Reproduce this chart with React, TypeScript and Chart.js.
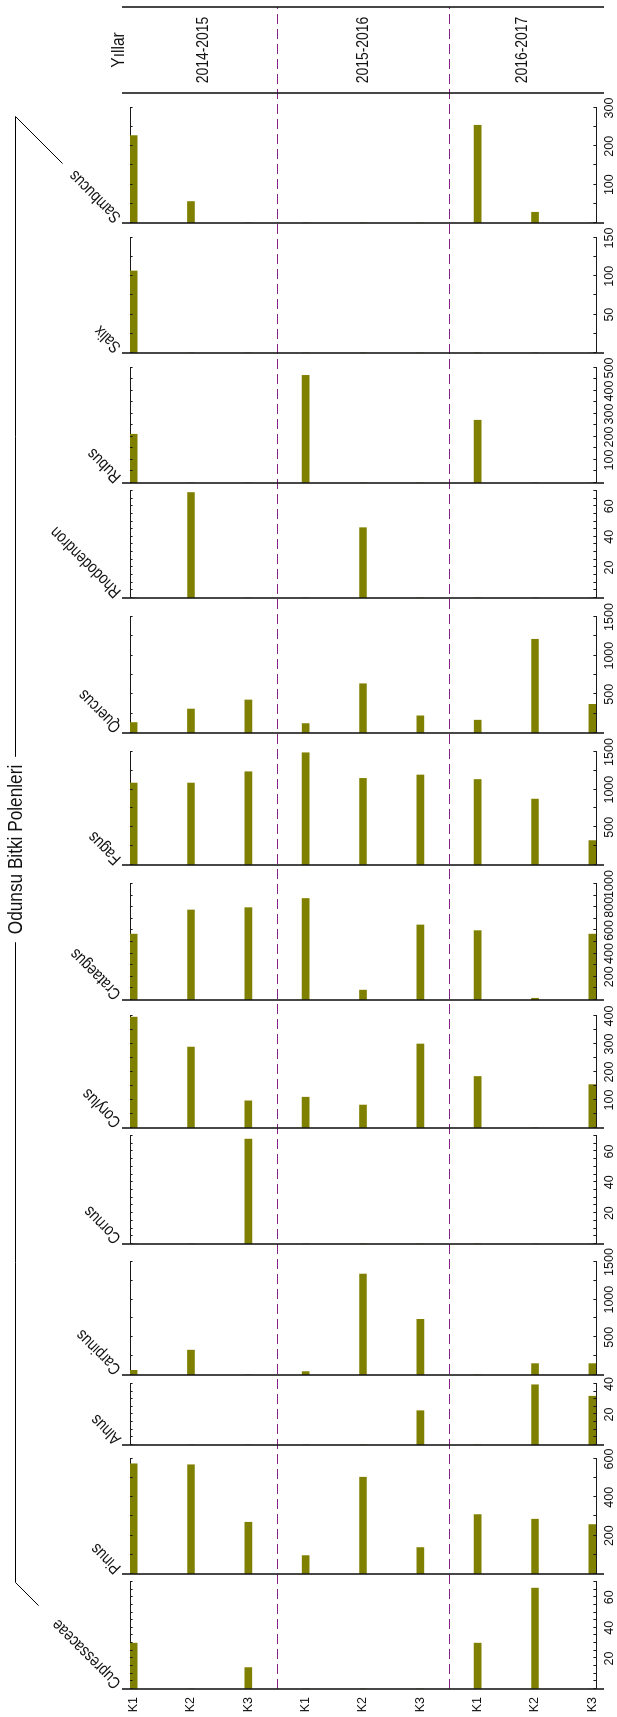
import React, { useEffect, useRef } from 'react';
import { Chart, registerables } from 'chart.js';

Chart.register(...registerables);

// ---------------- data ----------------
const CATEGORIES = ['K1', 'K2', 'K3', 'K1', 'K2', 'K3', 'K1', 'K2', 'K3'];
const YEARS = ['2014-2015', '2015-2016', '2016-2017'];
const YEAR_HEADER = 'Yıllar';
const TITLE = 'Odunsu Bitki Polenleri';
const TAXA = [
  'Cupressaceae', 'Pinus', 'Alnus', 'Carpinus', 'Cornus', 'Corylus', 'Crataegus',
  'Fagus', 'Quercus', 'Rhododendron', 'Rubus', 'Salix', 'Sambucus',
];

const cupressaceae = [30, 0, 14, 0, 0, 0, 30, 66, 0];
const pinus = [575, 570, 270, 96, 505, 138, 310, 286, 258];
const alnus = [0, 0, 0, 0, 0, 22.5, 0, 39.5, 32];
const carpinus = [62, 330, 0, 45, 1340, 739, 0, 151, 151];
const cornus = [0, 0, 68, 0, 0, 0, 0, 0, 0];
const corylus = [396, 289, 97, 110, 82, 300, 184, 0, 155];
const crataegus = [568, 776, 796, 875, 85, 647, 598, 15, 568];
const fagus = [1088, 1088, 1238, 1490, 1150, 1195, 1135, 875, 324];
const quercus = [135, 310, 427, 122, 637, 222, 166, 1212, 371];
const rhododendron = [0, 69, 0, 0, 46, 0, 0, 0, 0];
const rubus = [212, 0, 0, 468, 0, 0, 273, 0, 0];
const salix = [107, 0, 0, 0, 0, 0, 0, 0, 0];
const sambucus = [228, 56, 0, 0, 0, 0, 255, 28, 0];

const SERIES = [
  cupressaceae, pinus, alnus, carpinus, cornus, corylus, crataegus,
  fagus, quercus, rhododendron, rubus, salix, sambucus,
];

// value-axis scale settings per taxon
const AXIS_MAX = [70, 600, 40, 1500, 70, 400, 1000, 1500, 1500, 70, 500, 150, 300];
const LABEL_STEP = [20, 200, 20, 500, 20, 100, 200, 500, 500, 20, 100, 50, 100];
const TICK_STEP = [5, 100, 5, 250, 5, 50, 100, 250, 250, 5, 50, 25, 50];

// ---------------- layout (unrotated frame, rotated by CSS) ----------------
const W0 = 1717;
const H0 = 617;
const PLOT_TOP = 130;
const PLOT_BOTTOM = 596;
const LINE_EXT = 8;
const PANEL_LEFT = [28, 143, 272, 342, 473, 589, 717, 852, 984, 1119, 1234, 1364, 1494];
const PANEL_WIDTH = [107, 115, 61, 113, 108, 112, 116, 113, 116, 107, 115, 115, 115];
const PADX = 26;
const HEADER_X = [1624, 1710];
const PAD_UNITS = 0.063;
const TICK_LEN = 2.6;
const BAR_THICK = 7;

// ---------------- styles ----------------
const BAR_COLOR = '#808000';
const AXIS_COLOR = '#1a1a1a';
const TEXT_COLOR = '#111111';
const DASH_COLOR = '#862286';

function fontAvailable(name: string): boolean {
  try {
    const ctx = document.createElement('canvas').getContext('2d');
    if (!ctx) return false;
    const s = 'abcdefghijklmnopqrstuvwxyzABCDEFG0123456789';
    ctx.font = '40px monospace';
    const a = ctx.measureText(s).width;
    ctx.font = `40px "${name}", monospace`;
    const b = ctx.measureText(s).width;
    ctx.font = '40px serif';
    const c = ctx.measureText(s).width;
    ctx.font = `40px "${name}", serif`;
    const d = ctx.measureText(s).width;
    return a !== b || c !== d;
  } catch (e) {
    return false;
  }
}

export default function App() {
  const overlayRef = useRef<HTMLCanvasElement | null>(null);
  const panelRefs = useRef<(HTMLCanvasElement | null)[]>([]);

  useEffect(() => {
    let narrowName: string | null = null;
    if (fontAvailable('Liberation Sans Narrow')) narrowName = 'Liberation Sans Narrow';
    else if (fontAvailable('Arial Narrow')) narrowName = 'Arial Narrow';
    const FAMILY = narrowName ? `"${narrowName}", "Liberation Sans", Arial, sans-serif` : '"Liberation Sans", Arial, sans-serif';
    const SX = narrowName ? 1 : 0.82;
    const TICK_SIZE = narrowName ? 15 : 12.5;
    const CAT_SIZE = narrowName ? 15 : 12.5;
    const NAME_SIZE = 17;
    const YEAR_SIZE = 17;
    const HEADER_SIZE = 19;
    const TITLE_SIZE = 21;

    const drawText = (
      ctx: CanvasRenderingContext2D, text: string, x: number, y: number, size: number,
      align: CanvasTextAlign, baseline: CanvasTextBaseline, angle = 0,
    ): number => {
      ctx.save();
      ctx.translate(x, y);
      if (angle) ctx.rotate(angle);
      ctx.scale(SX, 1);
      ctx.font = `${size}px ${FAMILY}`;
      ctx.fillStyle = TEXT_COLOR;
      ctx.textAlign = align;
      ctx.textBaseline = baseline;
      ctx.fillText(text, 0, 0);
      const w = ctx.measureText(text).width * SX;
      ctx.restore();
      return w;
    };

    const charts: Chart[] = [];
    const lastIdx = CATEGORIES.length - 1;

    // ---------- overlay: year dividers, header, title bracket ----------
    const overlayPlugin = {
      id: 'overlayDecor',
      afterDraw(chart: any) {
        const ctx: CanvasRenderingContext2D = chart.ctx;
        const ys = chart.scales.y;
        const top = chart.chartArea.top;
        const bottom = chart.chartArea.bottom;
        ctx.save();
        const bounds: number[] = [top];
        for (let k = 1; k < YEARS.length; k++) {
          const v = (k * CATEGORIES.length) / YEARS.length - 0.5;
          const py = Math.round(ys.getPixelForValue(v)) + 0.5;
          bounds.push(py);
          ctx.strokeStyle = DASH_COLOR;
          ctx.lineWidth = 1.2;
          ctx.setLineDash([10, 5]);
          ctx.beginPath();
          ctx.moveTo(PANEL_LEFT[0], py);
          ctx.lineTo(HEADER_X[1], py);
          ctx.stroke();
        }
        bounds.push(bottom);
        ctx.setLineDash([]);
        ctx.strokeStyle = AXIS_COLOR;
        ctx.lineWidth = 1.6;
        ctx.beginPath();
        for (const hx of HEADER_X) {
          ctx.moveTo(hx, top - LINE_EXT);
          ctx.lineTo(hx, bottom + LINE_EXT);
        }
        ctx.stroke();
        const hc = (HEADER_X[0] + HEADER_X[1]) / 2;
        YEARS.forEach((yr, k) => {
          drawText(ctx, yr, hc, (bounds[k] + bounds[k + 1]) / 2, YEAR_SIZE, 'center', 'middle');
        });
        drawText(ctx, YEAR_HEADER, hc, top - 6, HEADER_SIZE, 'center', 'alphabetic');

        // title + bracket
        const lineY = 15.5;
        const cL = PANEL_LEFT[0] + top - LINE_EXT;
        const cR = PANEL_LEFT[PANEL_LEFT.length - 1] + top - LINE_EXT;
        const xL = cL - lineY;
        const xR = cR - lineY;
        const mid = (xL + xR) / 2;
        const tw = drawText(ctx, TITLE, mid, lineY + 1, TITLE_SIZE, 'center', 'middle');
        ctx.strokeStyle = '#000';
        ctx.lineWidth = 1;
        ctx.beginPath();
        ctx.moveTo(cL - 38.6, 38.6);
        ctx.lineTo(xL, lineY);
        ctx.lineTo(mid - tw / 2 - 8, lineY);
        ctx.moveTo(mid + tw / 2 + 8, lineY);
        ctx.lineTo(xR, lineY);
        ctx.lineTo(cR - 62.5, 62.5);
        ctx.stroke();
        ctx.restore();
      },
    };

    if (overlayRef.current) {
      charts.push(new Chart(overlayRef.current, {
        type: 'bar',
        data: { labels: [], datasets: [] },
        options: {
          animation: false,
          responsive: false,
          devicePixelRatio: 1,
          layout: { padding: { top: PLOT_TOP, bottom: H0 - PLOT_BOTTOM, left: 0, right: 0 } },
          plugins: { legend: { display: false }, tooltip: { enabled: false } },
          scales: {
            x: { display: false, type: 'linear', min: 0, max: 1, offset: false },
            y: { display: false, type: 'linear', min: -PAD_UNITS, max: lastIdx + PAD_UNITS, reverse: true, offset: false },
          },
        },
        plugins: [overlayPlugin],
      } as any));
    }

    // ---------- one horizontal bar chart per taxon ----------
    TAXA.forEach((taxon, i) => {
      const canvas = panelRefs.current[i];
      if (!canvas) return;
      const isFirst = i === 0;
      const max = AXIS_MAX[i];
      const major = LABEL_STEP[i];
      const minor = TICK_STEP[i];
      const tickValues: number[] = [];
      for (let v = 0; v <= max + 1e-9; v += minor) tickValues.push(v);

      const panelPlugin = {
        id: 'panelDecor',
        afterDraw(chart: any) {
          const ctx: CanvasRenderingContext2D = chart.ctx;
          const { left, top, bottom } = chart.chartArea;
          const xs = chart.scales.x;
          ctx.save();
          ctx.strokeStyle = AXIS_COLOR;
          ctx.lineWidth = 1;
          ctx.beginPath();
          for (const t of xs.ticks) {
            const px = Math.round(xs.getPixelForValue(t.value)) + 0.5;
            ctx.moveTo(px, bottom);
            ctx.lineTo(px, bottom - TICK_LEN);
            ctx.moveTo(px, top);
            ctx.lineTo(px, top + TICK_LEN);
          }
          ctx.stroke();
          ctx.lineWidth = 1.6;
          ctx.beginPath();
          ctx.moveTo(left, top - LINE_EXT);
          ctx.lineTo(left, bottom + LINE_EXT);
          ctx.stroke();
          drawText(ctx, taxon, left + 3.5, top - LINE_EXT - 3.5, NAME_SIZE, 'left', 'middle', -Math.PI / 4);
          ctx.restore();
        },
      };

      charts.push(new Chart(canvas, {
        type: 'bar',
        data: {
          datasets: [{
            data: CATEGORIES.map((_, k) => ({ x: SERIES[i][k], y: k })),
            backgroundColor: BAR_COLOR,
            borderWidth: 0,
            barThickness: BAR_THICK,
            xAxisID: 'x',
            yAxisID: 'y',
          }],
        },
        options: {
          indexAxis: 'y',
          animation: false,
          responsive: false,
          devicePixelRatio: 1,
          layout: { padding: { left: isFirst ? 0 : PADX, right: PADX, top: 0, bottom: 0 } },
          plugins: { legend: { display: false }, tooltip: { enabled: false } },
          scales: {
            x: {
              type: 'linear',
              position: 'bottom',
              min: 0,
              max,
              offset: false,
              afterBuildTicks: (ax: any) => { ax.ticks = tickValues.map((v) => ({ value: v })); },
              afterFit: (ax: any) => { ax.height = H0 - PLOT_BOTTOM; },
              grid: { display: false, drawTicks: false },
              border: { display: true, color: AXIS_COLOR, width: 1 },
              ticks: {
                autoSkip: false,
                maxRotation: 0,
                minRotation: 0,
                padding: 6,
                color: TEXT_COLOR,
                font: { family: FAMILY, size: TICK_SIZE },
                callback: (v: any) => {
                  const n = Number(v);
                  return n > 0 && Math.abs(n / major - Math.round(n / major)) < 1e-6 ? String(n) : '';
                },
              },
            },
            x2: {
              type: 'linear',
              position: 'top',
              min: 0,
              max,
              offset: false,
              afterFit: (ax: any) => { ax.height = PLOT_TOP; },
              grid: { display: false, drawTicks: false },
              border: { display: true, color: AXIS_COLOR, width: 1 },
              ticks: { display: false },
            },
            y: {
              type: 'linear',
              position: 'left',
              display: isFirst,
              offset: false,
              min: -PAD_UNITS,
              max: lastIdx + PAD_UNITS,
              reverse: true,
              afterBuildTicks: (ax: any) => { ax.ticks = CATEGORIES.map((_, k) => ({ value: k })); },
              afterFit: (ax: any) => { ax.width = isFirst ? PANEL_LEFT[0] : 0; },
              grid: { display: false, drawTicks: false, offset: false },
              border: { display: false },
              ticks: {
                autoSkip: false,
                padding: 8,
                color: TEXT_COLOR,
                font: { family: FAMILY, size: CAT_SIZE },
                callback: (v: any) => CATEGORIES[Math.round(Number(v))] ?? '',
              },
            },
          },
        },
        plugins: [panelPlugin],
      } as any));
    });

    return () => { charts.forEach((c) => c.destroy()); };
  }, []);

  return (
    <div
      style={{
        position: 'absolute',
        left: 0,
        top: 0,
        width: W0,
        height: H0,
        background: '#ffffff',
        transformOrigin: '0 0',
        transform: `translateY(${W0}px) rotate(-90deg)`,
      }}
    >
      <canvas ref={overlayRef} width={W0} height={H0} style={{ position: 'absolute', left: 0, top: 0 }} />
      {TAXA.map((t, i) => {
        const cl = i === 0 ? 0 : PANEL_LEFT[i] - PADX;
        const cw = i === 0 ? PANEL_LEFT[0] + PANEL_WIDTH[0] + PADX : PANEL_WIDTH[i] + 2 * PADX;
        return (
          <canvas
            key={t}
            ref={(el) => { panelRefs.current[i] = el; }}
            width={cw}
            height={H0}
            style={{ position: 'absolute', left: cl, top: 0 }}
          />
        );
      })}
    </div>
  );
}
